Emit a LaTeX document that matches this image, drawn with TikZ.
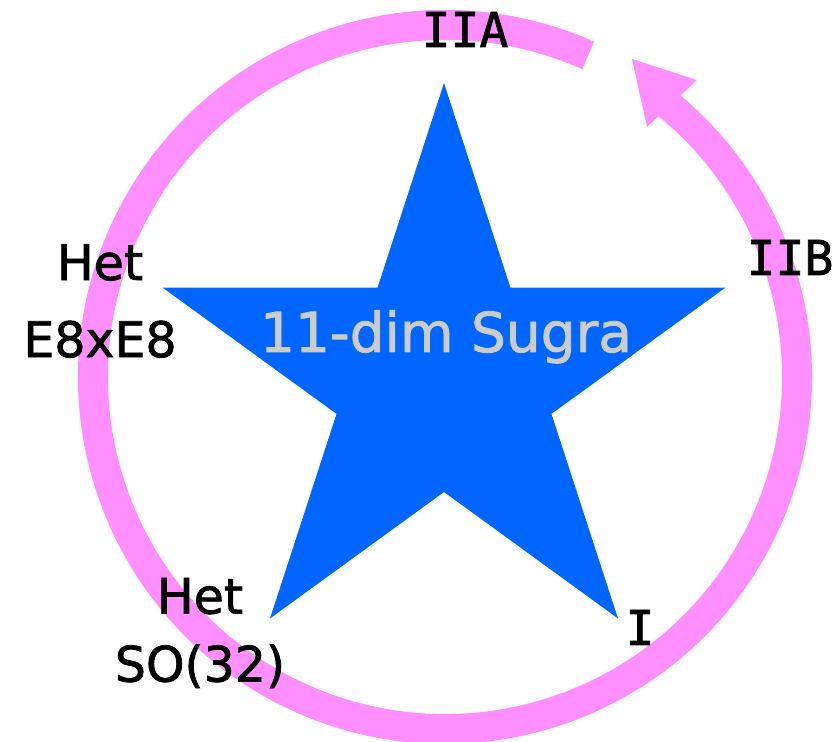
\documentclass[tikz,border=0pt]{standalone}
\usepackage{fontspec}
\setmainfont[FakeBold=1.5,AutoFakeBold=1.5]{DejaVu Sans}
\newfontfamily\textfam[FakeBold=1.5]{DejaVu Sans}
\newfontfamily\monofam[FakeBold=1.5]{DejaVu Sans Mono}
\definecolor{ringpink}{RGB}{255,143,255}
\definecolor{starblue}{RGB}{0,102,255}
\definecolor{textgrey}{RGB}{204,204,204}
\begin{document}
\begin{tikzpicture}[x=1pt,y=1pt,
  lbl/.style={inner sep=0pt, text=black, align=center},
  numlbl/.style={inner sep=0pt, text=black, font=\monofam\fontsize{48}{58}\selectfont, anchor=base}]
\useasboundingbox (0,0) rectangle (839,742);
% ring with arrow
\coordinate (rc) at (445,365);
\draw[ringpink, line width=30pt] ([shift={(66:352)}]rc) arc[start angle=66, end angle=411, radius=352];
\coordinate (hl) at (647,615);
\coordinate (ht) at (632,683);
\coordinate (hr) at (697,662);
\fill[ringpink] (hl) -- (ht) -- (hr) -- cycle;
% star
\coordinate (sc) at (444,363);
\fill[starblue] ([shift={(90:296)}]sc) -- ([shift={(126:113)}]sc) -- ([shift={(162:296)}]sc) -- ([shift={(198:113)}]sc) -- ([shift={(234:296)}]sc) -- ([shift={(270:113)}]sc) -- ([shift={(306:296)}]sc) -- ([shift={(342:113)}]sc) -- ([shift={(18:296)}]sc) -- ([shift={(54:113)}]sc) -- cycle;
\node[inner sep=0pt, text=textgrey, font=\textfam\fontsize{55}{60}\selectfont, anchor=base] (sugra) at (446,390) {11-dim Sugra};
% labels
\node[numlbl] (iia) at (465,695) {IIA};
\node[numlbl] (iib) at (790,467) {IIB};
\node[numlbl] (i) at (640,97) {I};
\node[lbl, font=\textfam\fontsize{49}{77}\selectfont] (hete8) at (100,441) {Het\\E8xE8};
\node[lbl, font=\textfam\fontsize{49}{68}\selectfont] (hetso) at (200,109) {Het\\SO(32)};
\end{tikzpicture}
\end{document}
